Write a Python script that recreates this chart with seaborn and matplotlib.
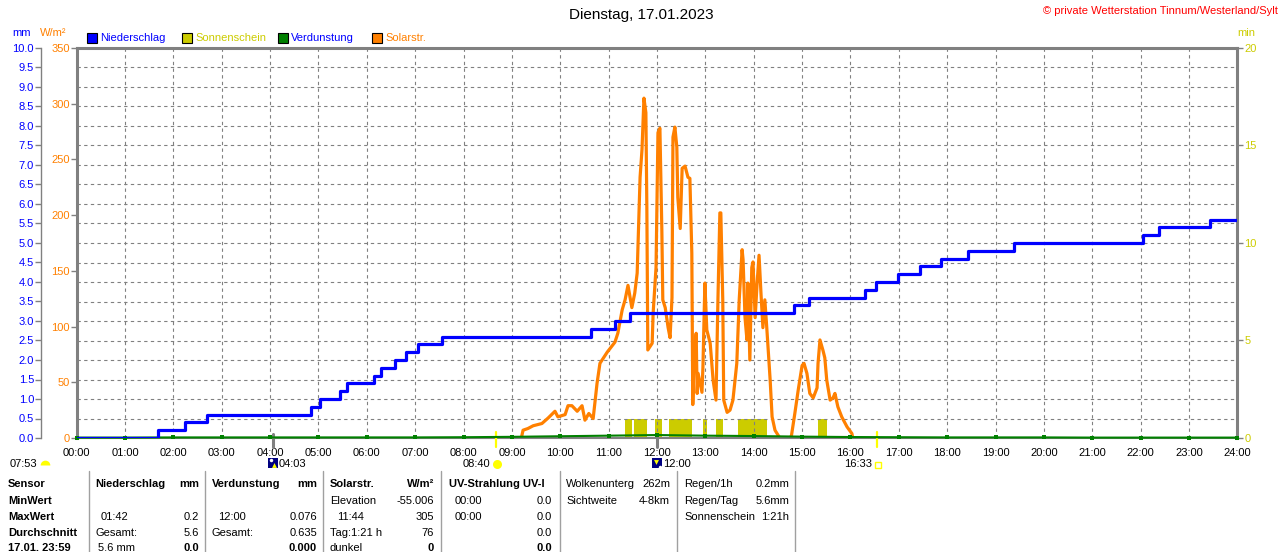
import numpy as np
import matplotlib
matplotlib.use("Agg")
import matplotlib.pyplot as plt
import seaborn as sns
from matplotlib.patches import Rectangle
from matplotlib.lines import Line2D

sns.set_style("white")
plt.rcParams["font.family"] = ["Liberation Sans", "DejaVu Sans"]

# ---------------- data ----------------
hour_ticks = list(range(25))
hour_labels = [f"{h:02d}:00" for h in hour_ticks]
mm_ticks = [0.0, 0.5, 1.0, 1.5, 2.0, 2.5, 3.0, 3.5, 4.0, 4.5, 5.0, 5.5, 6.0, 6.5, 7.0,
            7.5, 8.0, 8.5, 9.0, 9.5, 10.0]
mm_labels = [f"{v:.1f}" for v in mm_ticks]
w_ticks = [0, 50, 100, 150, 200, 250, 300, 350]
min_ticks = [0, 5, 10, 15, 20]

# Niederschlag (cumulative, mm)
precip_times = [0.0, 1.68, 2.23, 2.69, 4.84, 5.03, 5.44, 5.59, 6.14, 6.29, 6.58, 6.80,
                7.06, 7.55, 10.64, 11.13, 11.44, 14.83, 15.14, 16.30, 16.53, 16.99,
                17.44, 17.88, 18.44, 19.39, 22.04, 22.39, 23.44, 24.0]
precip_mm = [0.0, 0.2, 0.4, 0.6, 0.8, 1.0, 1.2, 1.4, 1.6, 1.8, 2.0, 2.2, 2.4, 2.6, 2.8,
             3.0, 3.2, 3.4, 3.6, 3.8, 4.0, 4.2, 4.4, 4.6, 4.8, 5.0, 5.2, 5.4, 5.6, 5.6]

# Solarstrahlung (W/m2)
solar_times = [9.18, 9.20, 9.23, 9.33, 9.44, 9.62, 9.75, 9.89, 9.95, 10.10, 10.16, 10.24,
               10.35, 10.45, 10.51, 10.59, 10.68, 10.76, 10.82, 10.97, 11.13, 11.19,
               11.28, 11.34, 11.40, 11.48, 11.54, 11.59, 11.65, 11.69, 11.73, 11.77,
               11.79, 11.81, 11.90, 11.92, 11.98, 12.02, 12.06, 12.10, 12.12, 12.17,
               12.23, 12.27, 12.31, 12.33, 12.37, 12.41, 12.43, 12.48, 12.52, 12.58,
               12.64, 12.68, 12.72, 12.74, 12.76, 12.81, 12.83, 12.85, 12.93, 12.95,
               12.99, 13.03, 13.10, 13.16, 13.22, 13.26, 13.30, 13.32, 13.36, 13.38,
               13.45, 13.51, 13.57, 13.65, 13.70, 13.76, 13.78, 13.82, 13.86, 13.88,
               13.92, 13.96, 13.985, 14.03, 14.07, 14.11, 14.15, 14.19, 14.23, 14.27,
               14.34, 14.38, 14.44, 14.54, 14.75, 14.78, 14.85, 14.92, 15.00, 15.04,
               15.10, 15.16, 15.23, 15.31, 15.33, 15.37, 15.43, 15.47, 15.51, 15.58,
               15.64, 15.68, 15.74, 15.82, 15.93, 16.03, 16.05]
solar_wm2 = [0, 1, 7, 8.5, 11, 13, 18, 24, 19, 21, 29, 29,
             24, 29, 16, 22, 17.5, 49, 67, 77, 86, 94,
             115, 124, 137, 117, 130, 148, 234, 259, 305, 292,
             207, 79, 85, 112, 153, 274, 278, 187, 124, 117,
             99, 90, 126, 270, 279, 261, 216, 188, 242, 244,
             234, 233, 166, 30, 64, 94, 40, 58, 41, 64,
             139, 97, 85, 52, 34, 124, 202, 202, 124, 34,
             23, 25, 34, 67, 124, 169, 160, 108, 88, 139,
             70, 153, 158, 108, 139, 164, 130, 99, 124, 99,
             52, 19, 7, 0, 0, 2, 22, 43, 65, 67,
             58, 40, 36, 45, 67, 88, 79, 72, 52, 34,
             36, 40, 28, 19, 10, 4, 0]

# Verdunstung (hourly, mm)
evap_hours = list(range(25))
evap_mm = [0.01, 0.01, 0.015, 0.015, 0.015, 0.015, 0.015, 0.015, 0.02, 0.03, 0.045,
           0.06, 0.076, 0.06, 0.05, 0.035, 0.025, 0.02, 0.015, 0.015, 0.015, 0.01,
           0.01, 0.01, 0.01]

# Sonnenschein (min)
sun_start = [11.34, 11.52, 11.96, 12.25, 12.95, 13.22, 13.68, 15.33]
sun_end = [11.48, 11.79, 12.10, 12.72, 13.03, 13.37, 14.27, 15.51]
sun_min = [1.0, 1.0, 1.0, 1.0, 1.0, 1.0, 1.0, 1.0]

sunrise, sunset, moonrise, moonset = 8.667, 16.55, 4.05, 12.0

BLUE = "#0000ff"
ORANGE = "#ff8000"
OLIVE = "#cccc00"
GREEN = "#008000"
GRAY = "#808080"

# ---------------- layout ----------------
W, H = 1280, 552
fig = plt.figure(figsize=(12.8, 5.52), dpi=100)
fig.patch.set_facecolor("white")
L, R, T, B = 76.7, 1237.3, 48, 438
ax_w = fig.add_axes([L / W, 1 - B / H, (R - L) / W, (B - T) / H])
ax_min = ax_w.twinx()
ax_mm = ax_w.twinx()

ax_min.set_zorder(1)
ax_w.set_zorder(2)
ax_mm.set_zorder(3)
ax_min.patch.set_visible(True)
ax_min.patch.set_facecolor("white")
ax_w.patch.set_visible(False)
ax_mm.patch.set_visible(False)

# --- W/m2 axis (main) ---
ax_w.set_xlim(0, 24)
ax_w.set_ylim(0, 350)
ax_w.set_xticks(hour_ticks)
ax_w.set_xticklabels(hour_labels)
ax_w.set_yticks(w_ticks)
ax_w.set_yticklabels([str(v) for v in w_ticks])
ax_w.set_yticks(np.arange(0, 351, 17.5), minor=True)
ax_w.tick_params(axis="x", length=0, pad=7, labelsize=8, colors="black")
ax_w.tick_params(axis="y", which="major", direction="out", length=4, width=1,
                 color=GRAY, labelcolor=ORANGE, labelsize=8, pad=1)
ax_w.tick_params(axis="y", which="minor", length=0)
ax_w.xaxis.grid(True, linestyle=(0, (3, 3)), color=GRAY, linewidth=0.8)
ax_w.yaxis.grid(True, which="minor", linestyle=(0, (3, 3)), color=GRAY, linewidth=0.8)
ax_w.yaxis.grid(False, which="major")
for s in ["top", "left", "right"]:
    ax_w.spines[s].set_color(GRAY)
    ax_w.spines[s].set_linewidth(2.2)
ax_w.spines["bottom"].set_color(GRAY)
ax_w.spines["bottom"].set_linewidth(1.5)

sns.lineplot(x=solar_times, y=solar_wm2, ax=ax_w, color=ORANGE, linewidth=2.3,
             estimator=None, sort=False)
ax_w.set_xlabel("")
ax_w.set_ylabel("")

# --- min axis (right) ---
ax_min.set_ylim(0, 20)
ax_min.set_yticks(min_ticks)
ax_min.set_yticklabels([str(v) for v in min_ticks])
ax_min.tick_params(axis="y", direction="out", length=4, width=1, color=GRAY,
                   labelcolor=OLIVE, labelsize=8, pad=1)
for s in ax_min.spines.values():
    s.set_visible(False)
ax_min.bar(sun_start, sun_min, width=[e - s for s, e in zip(sun_start, sun_end)],
           align="edge", color=OLIVE, linewidth=0)

# --- mm axis (outer left) ---
ax_mm.set_ylim(0, 10)
ax_mm.yaxis.tick_left()
ax_mm.yaxis.set_label_position("left")
ax_mm.set_yticks(mm_ticks)
ax_mm.set_yticklabels(mm_labels)
ax_mm.tick_params(axis="y", direction="out", length=4, width=1, color=GRAY,
                  labelcolor=BLUE, labelsize=8, pad=1)
for k, s in ax_mm.spines.items():
    s.set_visible(k == "left")
ax_mm.spines["left"].set_position(("outward", 25.7))
ax_mm.spines["left"].set_color(GRAY)
ax_mm.spines["left"].set_linewidth(1)

sns.lineplot(x=evap_hours, y=evap_mm, ax=ax_mm, color=GREEN, linewidth=1.5,
             marker="s", markersize=2.5, markeredgewidth=0, estimator=None,
             sort=False, clip_on=False)
sns.lineplot(x=precip_times, y=precip_mm, ax=ax_mm, color=BLUE, linewidth=2.3,
             drawstyle="steps-post", estimator=None, sort=False)
ax_mm.set_xlabel("")
ax_mm.set_ylabel("")
ax_min.set_ylabel("")
ax_mm.set_xlim(0, 24)

# sunrise / sunset / moon ticks on the time axis
xt = ax_w.get_xaxis_transform()
def ya(py):
    return (B - py) / (B - T)
for t in [sunrise, sunset]:
    ax_w.plot([t, t], [ya(432), ya(447)], transform=xt, color="#ffff00",
              linewidth=1.6, clip_on=False, zorder=5)
for t in [moonrise, moonset]:
    ax_w.plot([t, t], [ya(434), ya(447)], transform=xt, color=GRAY,
              linewidth=2.2, clip_on=False, zorder=5)

# ---------------- texts ----------------
def ftext(px, py, s, ha="left", va="center", size=8, color="black", weight="normal"):
    fig.text(px / W, 1 - py / H, s, ha=ha, va=va, fontsize=size, color=color,
             fontweight=weight)

def fmark(px, py, **kw):
    fig.add_artist(Line2D([px / W], [1 - py / H], transform=fig.transFigure, **kw))

ftext(641, 15, "Dienstag, 17.01.2023", ha="center", size=11)
ftext(1278, 11, "© private Wetterstation Tinnum/Westerland/Sylt", ha="right",
      size=8, color="#ff0000")
ftext(22, 33, "mm", ha="center", color=BLUE)
ftext(53, 33, "W/m²", ha="center", color=ORANGE)
ftext(1246, 33, "min", ha="center", color=OLIVE)

legend_items = [(87, "Niederschlag", BLUE, BLUE),
                (182, "Sonnenschein", OLIVE, OLIVE),
                (278, "Verdunstung", GREEN, BLUE),
                (372, "Solarstr.", ORANGE, ORANGE)]
for px, lab, fc, tc in legend_items:
    fig.add_artist(Rectangle((px / W, 1 - 43 / H), 10 / W, 10 / H,
                             transform=fig.transFigure, facecolor=fc,
                             edgecolor="black", linewidth=0.8))
    ftext(px + 13, 38, lab, color=tc)

# below-axis annotations
ftext(10, 464, "07:53")
fmark(45, 465, marker="o", markersize=7, fillstyle="top", color="#ffff00",
      markerfacecoloralt="none", markeredgewidth=0)
fmark(273, 463, marker="s", markersize=7.5, color="#000080", markeredgewidth=0)
fmark(274, 465, marker="^", markersize=3.5, color="#ffff00", markeredgewidth=0)
fmark(271, 459.5, marker="o", markersize=2.5, color="white", markeredgewidth=0)
ftext(279, 464, "04:03")
ftext(463, 464, "08:40")
fmark(497, 464, marker="o", markersize=6.5, color="#ffff00", markeredgewidth=0)
fmark(657, 463, marker="s", markersize=7.5, color="#000080", markeredgewidth=0)
fmark(656, 462, marker="v", markersize=3.5, color="#ffff00", markeredgewidth=0)
fmark(660, 466.5, marker="o", markersize=2.5, color="white", markeredgewidth=0)
ftext(663, 464, "12:00")
ftext(844, 464, "16:33")
fmark(878, 465, marker="s", markersize=4, markerfacecolor="none",
      markeredgecolor="#ffff00", markeredgewidth=1)

# ---------------- table ----------------
row_y = [484, 501, 517, 533, 548]
sep_x = [89, 205, 323, 441, 560, 677, 795]
for sx in sep_x:
    fig.add_artist(Line2D([sx / W, sx / W], [1 - 471 / H, 0], transform=fig.transFigure,
                          color="#a0a0a0", linewidth=1))

row_names = ["Sensor", "MinWert", "MaxWert", "Durchschnitt", "17.01. 23:59"]
for y, s in zip(row_y, row_names):
    ftext(8, y, s, weight="bold")

# (x, row, text, ha, bold)
table_cells = [
    (95, 0, "Niederschlag", "left", True), (199, 0, "mm", "right", True),
    (101, 2, "01:42", "left", False), (199, 2, "0.2", "right", False),
    (95, 3, "Gesamt:", "left", False), (199, 3, "5.6", "right", False),
    (98, 4, "5.6 mm", "left", False), (199, 4, "0.0", "right", True),
    (212, 0, "Verdunstung", "left", True), (317, 0, "mm", "right", True),
    (218, 2, "12:00", "left", False), (317, 2, "0.076", "right", False),
    (212, 3, "Gesamt:", "left", False), (317, 3, "0.635", "right", False),
    (317, 4, "0.000", "right", True),
    (330, 0, "Solarstr.", "left", True), (434, 0, "W/m²", "right", True),
    (330, 1, "Elevation", "left", False), (434, 1, "-55.006", "right", False),
    (337, 2, "11:44", "left", False), (434, 2, "305", "right", False),
    (330, 3, "Tag:1:21 h", "left", False), (434, 3, "76", "right", False),
    (330, 4, "dunkel", "left", False), (434, 4, "0", "right", True),
    (449, 0, "UV-Strahlung UV-I", "left", True),
    (455, 1, "00:00", "left", False), (552, 1, "0.0", "right", False),
    (455, 2, "00:00", "left", False), (552, 2, "0.0", "right", False),
    (552, 3, "0.0", "right", False), (552, 4, "0.0", "right", True),
    (566, 0, "Wolkenunterg", "left", False), (670, 0, "262m", "right", False),
    (566, 1, "Sichtweite", "left", False), (670, 1, "4-8km", "right", False),
    (684, 0, "Regen/1h", "left", False), (789, 0, "0.2mm", "right", False),
    (684, 1, "Regen/Tag", "left", False), (789, 1, "5.6mm", "right", False),
    (684, 2, "Sonnenschein", "left", False), (789, 2, "1:21h", "right", False),
]
for x, r, s, ha, bold in table_cells:
    ftext(x, row_y[r], s, ha=ha, weight="bold" if bold else "normal")

fig.savefig("out.png", dpi=100, facecolor="white")
